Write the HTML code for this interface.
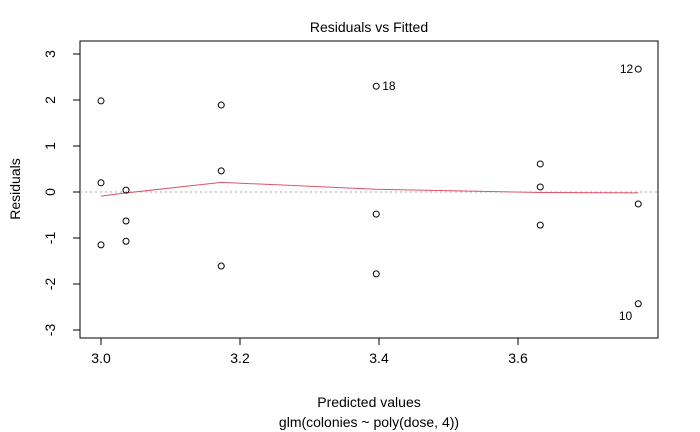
<!DOCTYPE html>
<html><head><meta charset="utf-8">
<style>
html,body{margin:0;padding:0;background:#fff;}
svg{display:block;font-family:"Liberation Sans",Arial,sans-serif;}
</style></head>
<body>
<svg id="chart" width="700" height="432" viewBox="0 0 700 432">
<rect x="0" y="0" width="700" height="432" fill="#fff"/>
<text x="369" y="32" text-anchor="middle" font-size="14">Residuals vs Fitted</text>
<rect x="80" y="41" width="578" height="297" fill="none" stroke="#000" stroke-width="1"/>
<g id="xaxis"></g>
<g id="yaxis"></g>
<line id="zero" stroke="#aaa" stroke-dasharray="2,3"/>
<polyline id="smooth" fill="none" stroke="#DF536B" stroke-width="1"/>
<g id="pts"></g>
<text x="369" y="407" text-anchor="middle" font-size="14">Predicted values</text>
<text x="369" y="427" text-anchor="middle" font-size="14">glm(colonies ~ poly(dose, 4))</text>
<text transform="translate(20,189) rotate(-90)" text-anchor="middle" font-size="14">Residuals</text>
</svg>
<script>
const fitted = [3.0,3.0,3.0,3.036,3.036,3.036,3.173,3.173,3.173,3.396,3.396,3.396,3.632,3.632,3.632,3.773,3.773,3.773];
const residuals = [1.98,0.2,-1.15,0.04,-0.63,-1.07,1.89,0.46,-1.61,2.3,-0.48,-1.78,0.61,0.11,-0.72,2.67,-0.26,-2.43];
const smoothX = [3.0,3.036,3.173,3.396,3.632,3.773];
const smoothY = [-0.09,-0.02,0.21,0.06,-0.01,-0.02];
const xTicks = [3.0,3.2,3.4,3.6];
const xTickLabels = ["3.0","3.2","3.4","3.6"];
const yTicks = [-3,-2,-1,0,1,2,3];
const labelIdx = [9,15,17];
const labelText = ["18","12","10"];
const sx = v => 101 + (v-3.0)*695;
const sy = v => 192 - v*46;
const NS="http://www.w3.org/2000/svg";
const mk=(t,a,p)=>{const e=document.createElementNS(NS,t);for(const k in a)e.setAttribute(k,a[k]);p.appendChild(e);return e;};
const xa=document.getElementById('xaxis');
mk('line',{x1:sx(xTicks[0]),x2:sx(xTicks[xTicks.length-1]),y1:338,y2:338,stroke:'#000'},xa);
xTicks.forEach((t,i)=>{
  const l=mk('line',{x1:sx(t),x2:sx(t),y1:338,y2:345,stroke:'#000'},xa);
  
  
  const tx=mk('text',{x:sx(t),y:363,'text-anchor':'middle','font-size':14},xa);
  tx.textContent=xTickLabels[i];
  
  
});
const ya=document.getElementById('yaxis');
mk('line',{x1:80,x2:80,y1:sy(3),y2:sy(-3),stroke:'#000'},ya);
yTicks.forEach(t=>{
  const l=mk('line',{x1:73,x2:80,y1:sy(t),y2:sy(t),stroke:'#000'},ya);
  
  
  const tx=mk('text',{transform:`translate(55,${sy(t)}) rotate(-90)`,'text-anchor':'middle','font-size':14},ya);
  tx.textContent=String(t);
  
  
});
const z=document.getElementById('zero');
z.setAttribute('x1',80);z.setAttribute('x2',658);z.setAttribute('y1',sy(0));z.setAttribute('y2',sy(0));
document.getElementById('smooth').setAttribute('points',smoothX.map((x,i)=>sx(x)+','+sy(smoothY[i])).join(' '));
const pg=document.getElementById('pts');
fitted.forEach((f,i)=>{
  const c=mk('circle',{cx:sx(f),cy:sy(residuals[i]),r:3,fill:'none',stroke:'#000','stroke-width':1},pg);
  
  
});
labelIdx.forEach((idx,k)=>{
  const x=sx(fitted[idx]), y=sy(residuals[idx]);
  let ax=x+6, anc='start', yy=y+4;
  if(labelText[k]==="12"){ax=x-5;anc='end';}
  if(labelText[k]==="10"){ax=x-6;anc='end';yy=y+16;}
  const tx=mk('text',{x:ax,y:yy,'text-anchor':anc,'font-size':12},pg);
  tx.textContent=labelText[k];
  
  
});
</script>
</body></html>
